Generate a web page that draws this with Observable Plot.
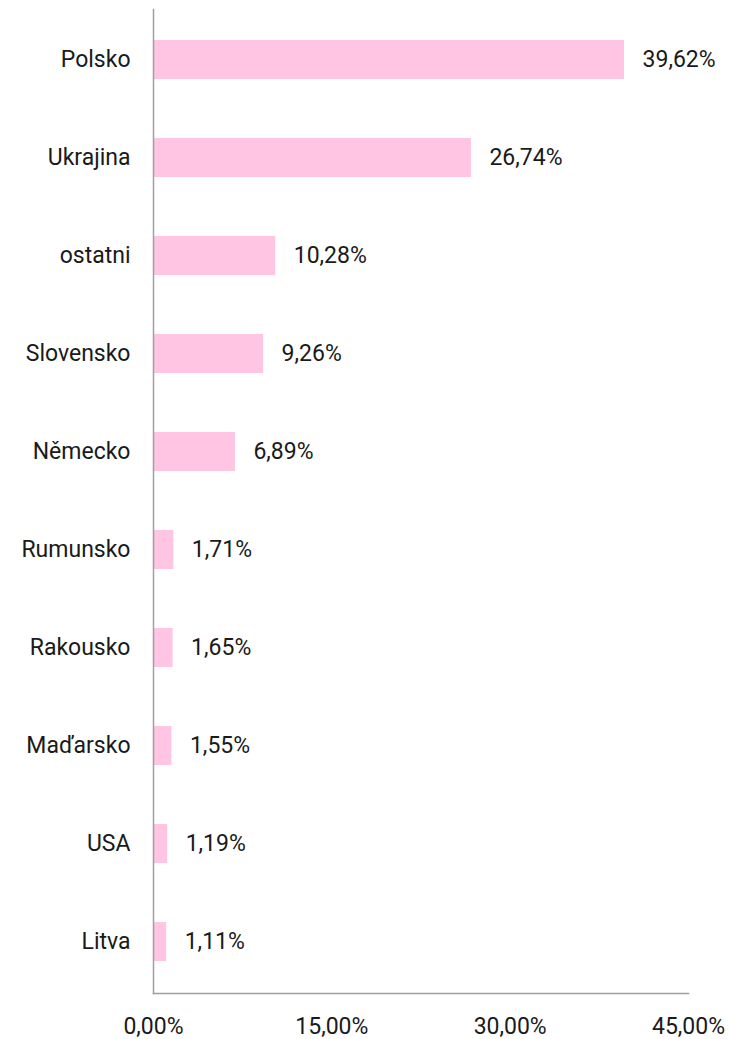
<!DOCTYPE html>
<html><head><meta charset="utf-8">
<script src="https://cdn.jsdelivr.net/npm/d3@7"></script>
<script src="https://cdn.jsdelivr.net/npm/@observablehq/plot@0.6"></script>
<style>
body{margin:0;background:#fff;}
svg{font-family:Roboto,"Noto Sans",sans-serif;}
</style>
</head><body>
<div id="chart"></div>
<script>
const countries = ["Polsko","Ukrajina","ostatni","Slovensko","Německo","Rumunsko","Rakousko","Maďarsko","USA","Litva"];
const shares = [39.62,26.74,10.28,9.26,6.89,1.71,1.65,1.55,1.19,1.11];
const xTicks = [0,15,30,45];

const data = countries.map((c,i)=>({country:c, share:shares[i]}));
const fmt = v => v.toFixed(2).replace(".", ",") + "%";

const chart = Plot.plot({
  width: 730,
  height: 1039,
  marginLeft: 153,
  marginRight: 42,
  marginTop: 9,
  marginBottom: 46,
  style: {fontSize: "23px", color: "#1a1a1a", background: "#fff"},
  x: {domain: [0,45]},
  y: {domain: countries, paddingInner: 0.6, paddingOuter: 0.3},
  marks: [
    Plot.barX(data, {x: "share", y: "country", fill: "#ffc5e2"}),
    Plot.text(data, {x: "share", y: "country", text: d => fmt(d.share), textAnchor: "start", dx: 18, fontSize: 23, fill: "#1a1a1a"}),
    Plot.axisY({tickSize: 0, tickPadding: 23, label: null, fontSize: 23}),
    Plot.axisX({ticks: xTicks, tickSize: 0, tickPadding: 24, tickFormat: fmt, label: null, fontSize: 23}),
    Plot.frame({anchor: "left", stroke: "#a0a0a0", strokeWidth: 1.5}),
    Plot.frame({anchor: "bottom", stroke: "#a0a0a0", strokeWidth: 1.5})
  ]
});
document.getElementById("chart").appendChild(chart);
</script>
</body></html>
